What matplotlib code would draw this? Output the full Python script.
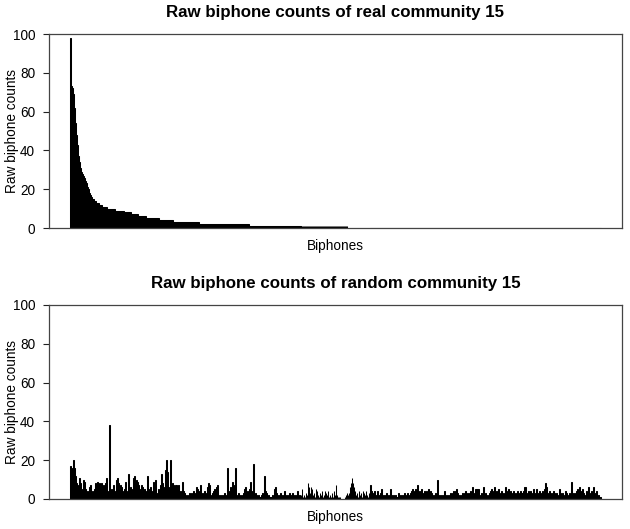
import numpy as np
import matplotlib
matplotlib.use("Agg")
import matplotlib.pyplot as plt

plt.rcParams['font.family'] = ['Liberation Sans', 'DejaVu Sans']

# ---------------- data ----------------
n_biphones = 532

# real community: sorted counts (head values, then runs of equal counts)
real_head = [98, 73, 72, 69, 62, 54, 48, 43, 37, 34, 31, 29, 28, 27, 26, 24,
             23, 21, 20, 18, 17, 16, 15, 15, 14, 14, 13, 13, 13, 12, 12, 12,
             11, 11, 11, 11, 11]
real_run_values = [10, 9, 8, 7, 6, 5, 4, 3, 2, 1]
real_run_lengths = [8, 9, 7, 7, 8, 13, 14, 26, 50, 99]

# random community counts
random_counts = [
    17, 16, 12, 20, 16, 12, 8, 7, 5, 11,
    8, 5, 4, 10, 9, 5, 3, 4, 3, 6,
    7, 3, 4, 2, 5, 8, 4, 9, 7, 8,
    5, 8, 4, 7, 3, 8, 11, 4, 2, 38,
    4, 5, 3, 7, 4, 3, 10, 11, 8, 5,
    7, 6, 3, 4, 5, 9, 4, 3, 13, 4,
    6, 3, 5, 11, 12, 6, 10, 9, 7, 4,
    5, 7, 6, 3, 5, 2, 4, 12, 5, 3,
    6, 4, 3, 9, 4, 10, 3, 2, 5, 4,
    7, 13, 8, 6, 4, 15, 20, 14, 4, 6,
    20, 5, 8, 7, 3, 7, 7, 4, 7, 3,
    4, 3, 9, 4, 3, 2, 1, 2, 1, 3,
    2, 3, 2, 4, 1, 3, 6, 5, 3, 4,
    7, 2, 3, 1, 4, 2, 3, 6, 8, 7,
    2, 1, 3, 4, 5, 2, 6, 7, 1, 2,
    1, 2, 1, 2, 3, 2, 1, 16, 4, 2,
    6, 5, 9, 7, 3, 16, 2, 1, 3, 2,
    1, 2, 1, 3, 5, 6, 2, 4, 3, 5,
    9, 4, 2, 18, 2, 3, 2, 1, 2, 1,
    1, 2, 3, 1, 12, 4, 3, 1, 2, 1,
    1, 1, 2, 1, 5, 6, 3, 1, 2, 1,
    3, 1, 2, 1, 4, 1, 2, 1, 2, 3,
    1, 2, 3, 1, 2, 1, 2, 4, 1, 2,
    1, 2, 5, 1, 2, 1, 3, 2, 8, 6,
    3, 6, 5, 2, 3, 1, 5, 4, 2, 1,
    3, 2, 4, 1, 2, 4, 3, 2, 4, 1,
    2, 1, 3, 1, 4, 2, 7, 2, 1, 1,
    1, 0, 0, 0, 0, 1, 2, 3, 2, 3,
    6, 8, 11, 8, 6, 4, 2, 3, 1, 4,
    2, 3, 1, 4, 3, 2, 4, 2, 1, 3,
    2, 7, 4, 2, 3, 4, 2, 1, 4, 2,
    1, 3, 5, 2, 1, 2, 1, 3, 1, 2,
    1, 5, 2, 1, 2, 1, 2, 1, 1, 3,
    2, 1, 2, 1, 2, 3, 1, 2, 3, 1,
    2, 3, 4, 5, 3, 4, 5, 3, 7, 2,
    4, 3, 5, 2, 3, 4, 2, 4, 3, 5,
    2, 4, 3, 1, 2, 1, 3, 1, 10, 2,
    1, 2, 1, 2, 1, 4, 2, 1, 2, 1,
    2, 3, 2, 3, 4, 2, 4, 5, 3, 2,
    1, 2, 1, 3, 2, 3, 4, 2, 3, 2,
    3, 4, 3, 6, 3, 2, 5, 5, 5, 5,
    2, 1, 3, 2, 6, 2, 3, 1, 2, 1,
    3, 4, 5, 4, 2, 6, 3, 4, 2, 5,
    3, 2, 4, 3, 2, 3, 6, 4, 3, 5,
    2, 4, 3, 2, 4, 3, 2, 3, 4, 3,
    2, 4, 3, 3, 4, 6, 6, 3, 2, 4,
    3, 4, 2, 3, 5, 2, 3, 5, 3, 2,
    4, 3, 2, 4, 3, 5, 8, 6, 2, 3,
    4, 2, 3, 1, 4, 3, 2, 3, 1, 2,
    5, 3, 2, 3, 2, 1, 4, 3, 2, 1,
    3, 2, 9, 3, 2, 3, 1, 4, 5, 3,
    6, 4, 2, 5, 3, 1, 2, 4, 3, 6,
    3, 2, 4, 3, 6, 3, 2, 4, 1, 2,
    1, 1,
]

titles = ["Raw biphone counts of real community 15",
          "Raw biphone counts of random community 15"]
y_label = "Raw biphone counts"
x_label = "Biphones"
y_ticks = [0, 20, 40, 60, 80, 100]

# ---------------- build series ----------------
real_counts = list(real_head) + list(np.repeat(real_run_values, real_run_lengths))
real_counts = real_counts + [0] * (n_biphones - len(real_counts))

W, H = 630, 529
fig = plt.figure(figsize=(W / 100, H / 100), dpi=100)

def px_axes(left, top, right, bottom):
    return fig.add_axes([left / W, 1 - bottom / H, (right - left) / W, (bottom - top) / H])

space = 0.2
width = 1.0
positions = space + np.arange(n_biphones) * (width + space) + width / 2
lo, hi = space, n_biphones * (width + space)
pad = 0.04 * (hi - lo)

panels = [(34, 228), (305, 499)]
for (top, bottom), counts, title in zip(panels, [real_counts, random_counts], titles):
    ax = px_axes(49, top, 622, bottom)
    ax.bar(positions, counts, width=width, color='black', edgecolor='black',
           linewidth=0.75)
    ax.set_xlim(lo - pad, hi + pad)
    ax.set_ylim(0, 100)
    ax.set_xticks([])
    ax.set_yticks(y_ticks)
    ax.set_yticklabels([str(t) for t in y_ticks], fontsize=9.8)
    ax.tick_params(axis='y', direction='out', length=4, width=0.8, pad=6,
                   colors='#222222', labelcolor='black')
    for s in ax.spines.values():
        s.set_color('#444444')
        s.set_linewidth(0.9)
    ax.set_title(title, fontsize=12.2, fontweight='bold', pad=12)
    ax.set_ylabel(y_label, fontsize=9.8)
    ax.yaxis.set_label_coords(-0.052, 0.5)
    ax.set_xlabel(x_label, fontsize=9.8, labelpad=8)

fig.savefig("out.png", dpi=100)
